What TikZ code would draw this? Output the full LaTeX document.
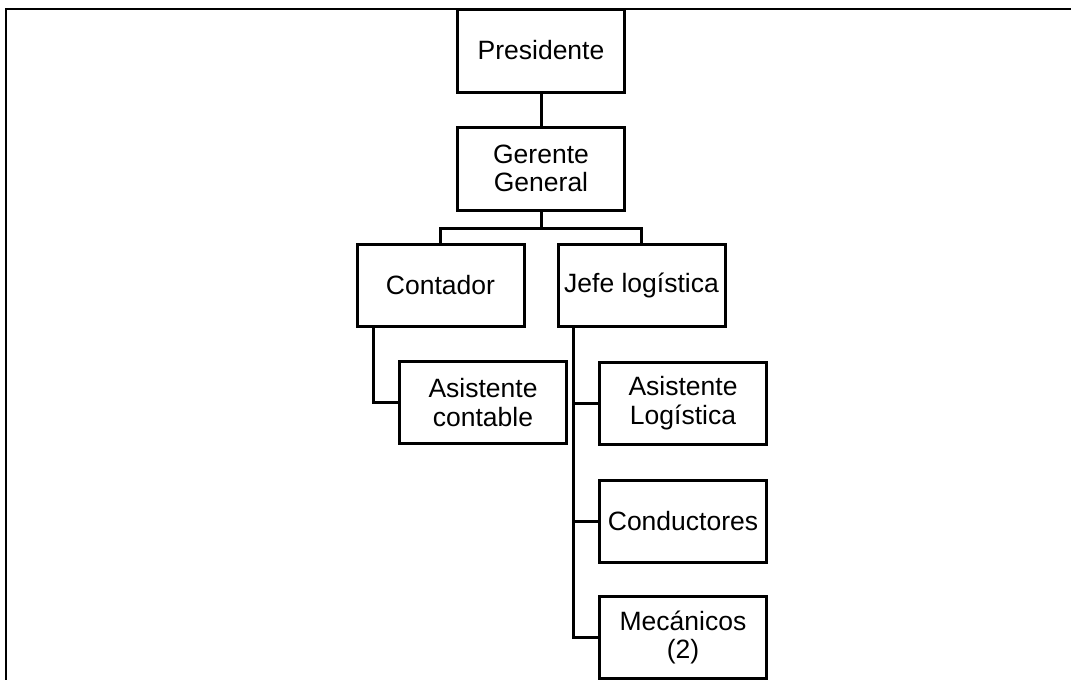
\documentclass[tikz,border=0pt]{standalone}
\usepackage{fontspec}
\setmainfont{Liberation Sans}
\usetikzlibrary{calc}
\begin{document}
\begin{tikzpicture}[x=1pt,y=-1pt,
  line width=3pt,
  orgbox/.style={draw, rectangle, align=center, inner sep=0pt,
    minimum width=167pt, minimum height=82pt,
    font=\fontsize{26.5}{28.5}\selectfont},
  link/.style={draw, line width=3pt}]
\useasboundingbox (0,0) rectangle (1071,680);
% outer frame (top and left edges)
\draw[line width=2.8pt] (6,681) -- (6,9) -- (1072,9);

\node[orgbox, minimum height=83pt] (pres) at (541,50.5) {Presidente};
\node[orgbox, minimum height=83pt] (ger) at (541,168.5) {Gerente\\General};
\node[orgbox] (cont) at (440.5,285.5) {Contador};
\node[orgbox] (jefe) at (641.5,285.5) {Jefe logística};
\node[orgbox] (asc) at (483,402.5) {Asistente\\contable};
\node[orgbox] (asl) at (683,403) {Asistente\\Logística};
\node[orgbox] (cond) at (683,521) {Conductores};
\node[orgbox] (mec) at (683,637.5) {Mecánicos\\(2)};

% connectors
\draw[link] (pres.south) -- (ger.north);
\coordinate (bar) at ($(ger.south)+(0,17)$);
\draw[link] (ger.south) -- (bar);
\draw[link] (cont.north) |- (bar) -| (jefe.north);
\coordinate (cspine) at ($(cont.south west)+(18,0)$);
\draw[link] (cspine) |- (asc.west);
\coordinate (jspine) at ($(jefe.south west)+(17,0)$);
\draw[link] (jspine) |- (mec.west);
\draw[link] (asl.west) -- (asl.west -| jspine);
\draw[link] (cond.west) -- (cond.west -| jspine);
\end{tikzpicture}
\end{document}
